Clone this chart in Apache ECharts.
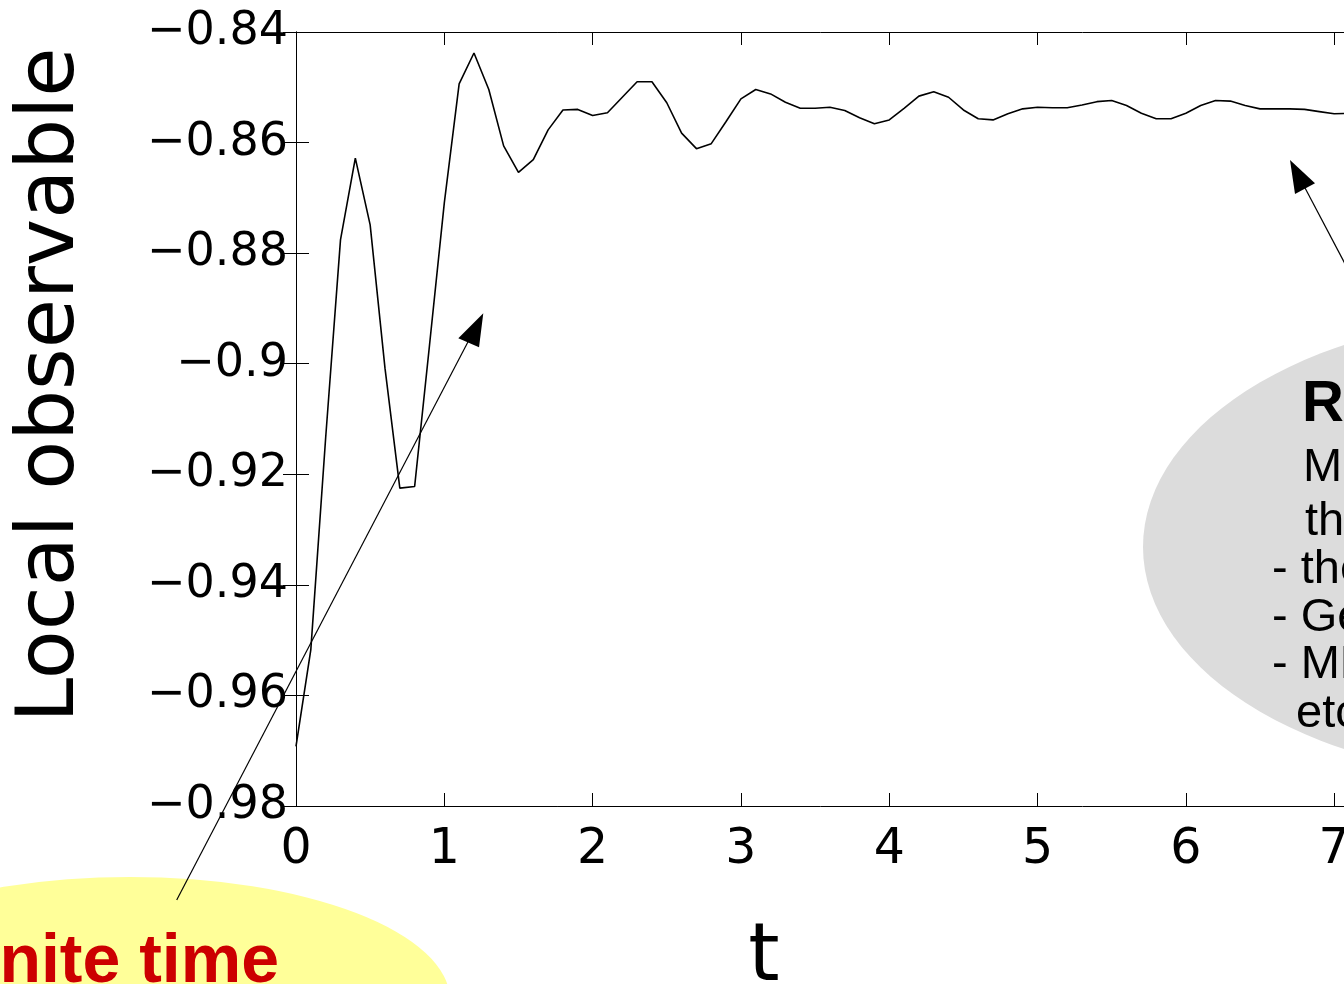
<!DOCTYPE html>
<html>
<head>
    <meta charset="utf-8">
    <title>Local observable vs t</title>
    <script src="https://cdn.jsdelivr.net/npm/echarts@6/dist/echarts.min.js"></script>
    <style>
        html, body { margin: 0; padding: 0; background: #fff; }
        #chart { width: 1344px; height: 984px; }
    </style>
</head>
<body>
<div id="chart"></div>
<script type="text/javascript">
    // time steps (0 .. 7.1, step 0.1)
    var tValues = [0.0, 0.1, 0.2, 0.3, 0.4, 0.5, 0.6, 0.7, 0.8, 0.9,
        1.0, 1.1, 1.2, 1.3, 1.4, 1.5, 1.6, 1.7, 1.8, 1.9,
        2.0, 2.1, 2.2, 2.3, 2.4, 2.5, 2.6, 2.7, 2.8, 2.9,
        3.0, 3.1, 3.2, 3.3, 3.4, 3.5, 3.6, 3.7, 3.8, 3.9,
        4.0, 4.1, 4.2, 4.3, 4.4, 4.5, 4.6, 4.7, 4.8, 4.9,
        5.0, 5.1, 5.2, 5.3, 5.4, 5.5, 5.6, 5.7, 5.8, 5.9,
        6.0, 6.1, 6.2, 6.3, 6.4, 6.5, 6.6, 6.7, 6.8, 6.9,
        7.0, 7.1];
    // local observable
    var observable = [-0.9692, -0.9517, -0.9134, -0.8776, -0.8628, -0.8749, -0.9008, -0.9225, -0.9222, -0.8967,
        -0.8709, -0.8494, -0.8438, -0.8504, -0.8606, -0.8654, -0.8631, -0.8577, -0.8541, -0.8540,
        -0.8551, -0.8546, -0.8518, -0.8490, -0.8490, -0.8528, -0.8583, -0.8611, -0.8602, -0.8562,
        -0.8521, -0.8504, -0.8512, -0.8527, -0.8538, -0.8538, -0.8536, -0.8542, -0.8555, -0.8566,
        -0.8559, -0.8538, -0.8516, -0.8508, -0.8518, -0.8541, -0.8557, -0.8559, -0.8548, -0.8539,
        -0.8536, -0.8537, -0.8537, -0.8532, -0.8526, -0.8524, -0.8533, -0.8547, -0.8557, -0.8557,
        -0.8547, -0.8533, -0.8524, -0.8525, -0.8533, -0.8539, -0.8539, -0.8539, -0.8540, -0.8544,
        -0.8548, -0.8547];
    var xRange = [0, 7.1];
    var yRange = [-0.98, -0.84];

    var finiteLines = ['Finite time'];
    var relaxTitle = 'Relaxation';
    var relaxLines = ['Many methods for', 'the long-time limit:', '- thermalization', '- Generalized Gibbs', '- MBL', 'etc.'];

    var lineData = tValues.map(function (t, i) { return [t, observable[i]]; });

    var tickFont = 'DejaVu Sans';
    var noteFont = '"Liberation Sans", Arial, sans-serif';

    function yLabel(v) {
        return String(Math.round(v * 100) / 100).replace('-', '\u2212');
    }
    function xLabel(v) {
        return Math.abs(v - Math.round(v)) < 1e-9 ? String(Math.round(v)) : '';
    }

    var frameAxis = {
        axisLine: { show: true, lineStyle: { color: '#000', width: 1 } },
        axisTick: { show: true, inside: true, length: 13, lineStyle: { color: '#000', width: 1 } },
        splitLine: { show: false }
    };

    var myChart = echarts.init(document.getElementById('chart'), null, { renderer: 'canvas' });

    var graphics = [
        // yellow note (bottom left)
        { type: 'circle', shape: { cx: 0, cy: 0, r: 123 }, x: 130, y: 1000, scaleX: 320 / 123, scaleY: 1,
          style: { fill: '#ffff99' }, z: 1 },
        { type: 'text', x: -61, y: 963, z: 2,
          style: { text: finiteLines[0], font: 'bold 68px ' + noteFont, fill: '#cc0000', align: 'left', verticalAlign: 'middle' } },
        // grey note (right)
        { type: 'circle', shape: { cx: 0, cy: 0, r: 233 }, x: 1543, y: 547, scaleX: 400 / 233, scaleY: 1,
          style: { fill: '#dcdcdc' }, z: 1 },
        { type: 'text', x: 1302, y: 405, z: 2,
          style: { text: relaxTitle, font: 'bold 58px ' + noteFont, fill: '#000', align: 'left', verticalAlign: 'middle' } },
        { type: 'text', x: 1303, y: 468, z: 2,
          style: { text: relaxLines[0], font: '47px ' + noteFont, fill: '#000', align: 'left', verticalAlign: 'middle' } },
        { type: 'text', x: 1305, y: 522, z: 2,
          style: { text: relaxLines[1], font: '47px ' + noteFont, fill: '#000', align: 'left', verticalAlign: 'middle' } },
        { type: 'text', x: 1272, y: 570, z: 2,
          style: { text: relaxLines[2], font: '47px ' + noteFont, fill: '#000', align: 'left', verticalAlign: 'middle' } },
        { type: 'text', x: 1272, y: 618, z: 2,
          style: { text: relaxLines[3], font: '47px ' + noteFont, fill: '#000', align: 'left', verticalAlign: 'middle' } },
        { type: 'text', x: 1272, y: 665, z: 2,
          style: { text: relaxLines[4], font: '47px ' + noteFont, fill: '#000', align: 'left', verticalAlign: 'middle' } },
        { type: 'text', x: 1296, y: 714, z: 2,
          style: { text: relaxLines[5], font: '47px ' + noteFont, fill: '#000', align: 'left', verticalAlign: 'middle' } },
        // arrows
        { type: 'line', shape: { x1: 176.7, y1: 900, x2: 470, y2: 338 }, style: { stroke: '#000', lineWidth: 1.2 }, z: 10 },
        { type: 'polygon', shape: { points: [[483.3, 313.3], [458.3, 338.3], [479, 347.3]] }, style: { fill: '#000' }, z: 10 },
        { type: 'line', shape: { x1: 1362, y1: 296, x2: 1304, y2: 186 }, style: { stroke: '#000', lineWidth: 1.2 }, z: 10 },
        { type: 'polygon', shape: { points: [[1290, 160], [1295, 194], [1315, 183.3]] }, style: { fill: '#000' }, z: 10 },
        // axis titles
        { type: 'text', x: 52, y: 385, rotation: Math.PI / 2, z: 3,
          style: { text: 'Local observable', font: '80px "DejaVu Sans"', fill: '#000', align: 'center', verticalAlign: 'middle' } },
        { type: 'text', x: 764, y: 959, z: 3,
          style: { text: 't', font: '80px "DejaVu Sans"', fill: '#000', align: 'center', verticalAlign: 'middle' } }
    ];

    myChart.setOption({
        animation: false,
        backgroundColor: '#fff',
        textStyle: { fontFamily: tickFont },
        grid: { left: 296, top: 32, width: 1053, height: 774, containLabel: false, outerBoundsMode: 'none' },
        xAxis: [
            Object.assign({
                type: 'value', position: 'bottom', min: xRange[0], max: xRange[1], interval: 1,
                axisLabel: { show: true, formatter: xLabel, fontSize: 49, color: '#000', margin: 20, fontFamily: tickFont }
            }, frameAxis),
            Object.assign({
                type: 'value', position: 'top', min: xRange[0], max: xRange[1], interval: 1,
                axisLabel: { show: false }
            }, frameAxis)
        ],
        yAxis: [
            Object.assign({
                type: 'value', position: 'left', min: yRange[0], max: yRange[1], interval: 0.02,
                axisLabel: { show: true, formatter: yLabel, fontSize: 46, color: '#000', margin: 8, fontFamily: tickFont }
            }, frameAxis),
            Object.assign({
                type: 'value', position: 'right', min: yRange[0], max: yRange[1], interval: 0.02,
                axisLabel: { show: false }
            }, frameAxis)
        ],
        series: [
            {
                name: 'observable',
                type: 'line',
                xAxisIndex: 0,
                yAxisIndex: 0,
                data: lineData,
                showSymbol: false,
                symbol: 'none',
                lineStyle: { color: '#000', width: 1.6 },
                z: 5
            }
        ],
        graphic: graphics
    });
</script>
</body>
</html>
